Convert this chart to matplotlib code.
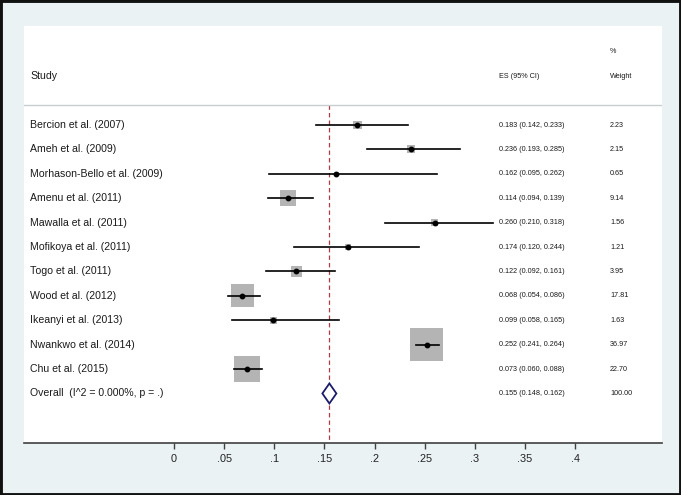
import matplotlib
matplotlib.use("Agg")
import matplotlib.pyplot as plt
from matplotlib.patches import Polygon, Rectangle

studies = ["Bercion et al. (2007)", "Ameh et al. (2009)", "Morhason-Bello et al. (2009)",
           "Amenu et al. (2011)", "Mawalla et al. (2011)", "Mofikoya et al. (2011)",
           "Togo et al. (2011)", "Wood et al. (2012)", "Ikeanyi et al. (2013)",
           "Nwankwo et al. (2014)", "Chu et al. (2015)"]
es = [0.183, 0.236, 0.162, 0.114, 0.260, 0.174, 0.122, 0.068, 0.099, 0.252, 0.073]
lo = [0.142, 0.193, 0.095, 0.094, 0.210, 0.120, 0.092, 0.054, 0.058, 0.241, 0.060]
hi = [0.233, 0.285, 0.262, 0.139, 0.318, 0.244, 0.161, 0.086, 0.165, 0.264, 0.088]
weights = [2.23, 2.15, 0.65, 9.14, 1.56, 1.21, 3.95, 17.81, 1.63, 36.97, 22.70]
overall_label = "Overall  (I^2 = 0.000%, p = .)"
overall_es, overall_lo, overall_hi, overall_w = 0.155, 0.148, 0.162, 100.00
xticks = [0, 0.05, 0.1, 0.15, 0.2, 0.25, 0.3, 0.35, 0.4]
xtick_labels = ["0", ".05", ".1", ".15", ".2", ".25", ".3", ".35", ".4"]

plt.rcParams['font.family'] = ['Liberation Sans', 'DejaVu Sans']

W, H = 681, 495
fig = plt.figure(figsize=(W / 100, H / 100), dpi=100)
fig.patch.set_facecolor('#eaf2f3')

left, right, top, bottom = 24, 662, 26, 443
ax = fig.add_axes([left / W, (H - bottom) / H, (right - left) / W, (bottom - top) / H])
ax.set_facecolor('white')

x0px, scale = 174, 1002.5
ax.set_xlim((left - x0px) / scale, (right - x0px) / scale)
ytop, ybot = -4.06, 13.03
ax.set_ylim(ybot, ytop)

for s in ['top', 'left', 'right']:
    ax.spines[s].set_visible(False)
ax.spines['bottom'].set_color('#404040')
ax.spines['bottom'].set_linewidth(1.2)
ax.set_yticks([])
ax.set_xticks(xticks)
ax.set_xticklabels(xtick_labels)
ax.tick_params(axis='x', length=4, width=1, color='#404040', labelsize=7.8,
               labelcolor='#222222', pad=4)

# separator
ax.axhline(-0.82, color='#c8cdcf', lw=1)

# overall line
ax.plot([overall_es, overall_es], [-0.82, ybot], color='#b23a46', lw=0.9,
        ls=(0, (3.5, 2.5)), zorder=1)

n = len(studies)
ys = list(range(n))
ax.scatter(es, ys, s=[15.3 * w for w in weights], marker='s', color='#b4b4b4',
           zorder=2, linewidths=0)
for y, l, h in zip(ys, lo, hi):
    ax.plot([l, h], [y, y], color='black', lw=1.2, zorder=3)
ax.plot(es, ys, 'o', color='black', ms=3.2, zorder=4)

yo = n
dh = 0.41
diamond = Polygon([(overall_lo, yo), (overall_es, yo - dh), (overall_hi, yo), (overall_es, yo + dh)],
                  closed=True, facecolor='white', edgecolor='#1c1c6a', lw=1.3, zorder=4)
ax.add_patch(diamond)

xlab = (30 - x0px) / scale
xes = (499 - x0px) / scale
xw = (610 - x0px) / scale
fs_lab = 7.6
fs_small = 5.2
tc = '#1a1a1a'
ax.text(xlab, -2.0, "Study", fontsize=fs_lab, va='center', ha='left', color=tc)
ax.text(xes, -2.0, "ES (95% CI)", fontsize=fs_small, va='center', ha='left', color=tc)
ax.text(xw, -2.0, "Weight", fontsize=fs_small, va='center', ha='left', color=tc)
ax.text(xw, -3.03, "%", fontsize=fs_small, va='center', ha='left', color=tc)

for y, name, e, l, h, w in zip(ys, studies, es, lo, hi, weights):
    ax.text(xlab, y, name, fontsize=fs_lab, va='center', ha='left', color=tc)
    ax.text(xes, y, f"{e:.3f} ({l:.3f}, {h:.3f})", fontsize=fs_small, va='center', ha='left', color=tc)
    ax.text(xw, y, f"{w:.2f}", fontsize=fs_small, va='center', ha='left', color=tc)
ax.text(xlab, yo, overall_label, fontsize=fs_lab, va='center', ha='left', color=tc)
ax.text(xes, yo, f"{overall_es:.3f} ({overall_lo:.3f}, {overall_hi:.3f})", fontsize=fs_small,
        va='center', ha='left', color=tc)
ax.text(xw, yo, f"{overall_w:.2f}", fontsize=fs_small, va='center', ha='left', color=tc)

fig.patches.append(Rectangle((0, 0), 1, 1, transform=fig.transFigure, fill=False,
                             edgecolor='#111111', lw=3.5, zorder=10))

fig.savefig("out.png", dpi=100, facecolor=fig.get_facecolor())
